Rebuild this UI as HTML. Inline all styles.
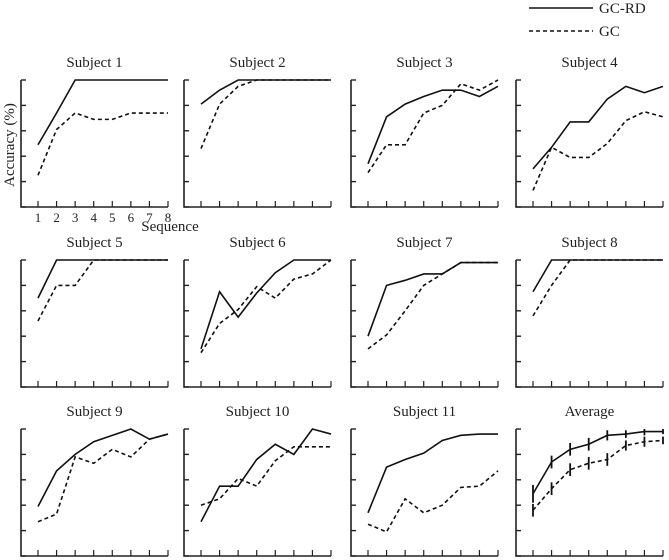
<!DOCTYPE html>
<html><head><meta charset="utf-8"><style>
html,body{margin:0;padding:0;background:#fff;}
svg{display:block;font-family:"Liberation Serif",serif;}
</style></head><body>
<svg id="chart" width="669" height="560" viewBox="0 0 669 560" xmlns="http://www.w3.org/2000/svg">
<g>
<line x1="529" y1="8" x2="593" y2="8" stroke="#111" stroke-width="1.6"/>
<text x="599" y="13" font-size="15" fill="#222">GC-RD</text>
<line x1="529" y1="31" x2="593" y2="31" stroke="#111" stroke-width="1.6" stroke-dasharray="4,3"/>
<text x="599" y="36" font-size="15" fill="#222">GC</text>
</g>
<text transform="translate(14,145) rotate(-90)" text-anchor="middle" font-size="15" fill="#222">Accuracy (%)</text>
<text x="170" y="231" text-anchor="middle" font-size="15" fill="#222">Sequence</text>
<g id="panels"></g>
</svg>
<script>
const titles = ["Subject 1","Subject 2","Subject 3","Subject 4","Subject 5","Subject 6","Subject 7","Subject 8","Subject 9","Subject 10","Subject 11","Average"];
const sequences = [1,2,3,4,5,6,7,8];
const gcrd = [
 [49,74,100,100,100,100,100,100],
 [81,92,100,100,100,100,100,100],
 [34,71,81,87,92,92,87,95],
 [30,47,67,67,85,95,90,95],
 [70,100,100,100,100,100,100,100],
 [30,75,55,74,90,100,100,100],
 [40,80,84,89,89,98,98,98],
 [75,100,100,100,100,100,100,100],
 [39,67,80,90,95,100,92,96],
 [27,55,55,76,88,80,100,96],
 [34,70,76,81,91,95,96,96],
 [49,74,84,88,95,96,98,98]
];
const gc = [
 [25,61,74,69,69,74,74,74],
 [46,81,95,100,100,100,100,100],
 [27,49,49,74,80,97,92,100],
 [13,47,39,39,50,68,75,71],
 [52,80,80,100,100,100,100,100],
 [27,50,61,79,70,85,89,100],
 [30,41,60,80,89,98,98,98],
 [56,80,100,100,100,100,100,100],
 [27,33,78,73,84,78,92,96],
 [40,45,61,55,75,86,86,86],
 [25,19,45,34,40,54,55,67],
 [36,53,68,73,76,87,90,91]
];
const avgErrRD = [7,5,5,5,4,3,3,2];
const avgErrGC = [5,5,5,5,5,4,4,3];
const yTicks = [0,20,40,60,80,100];
const xTickLabels = ["1","2","3","4","5","6","7","8"];

const NS="http://www.w3.org/2000/svg";
const colX=[21,184,351,516], rowTop=[80,260,429], H=127, W=147;
const root=document.getElementById('panels');
function mk(tag,attrs,parent){const e=document.createElementNS(NS,tag);for(const k in attrs)e.setAttribute(k,attrs[k]);parent.appendChild(e);return e;}
titles.forEach((t,i)=>{
  const x0=colX[i%4], top=rowTop[Math.floor(i/4)], bot=top+H;
  const xs=v=>x0+17+(v-1)*(W-17)/7;
  const ys=v=>bot-v/100*H;
  const g=mk('g',{},root);
  
  
  const tt=mk('text',{x:x0+W/2,y:top-13,'text-anchor':'middle','font-size':15,fill:'#222'},g);
  tt.textContent=t;
  
  
  const ax=mk('path',{d:`M${x0},${top} V${bot} H${x0+W}`,stroke:'#222','stroke-width':1.6,fill:'none'},g);
  
  
  yTicks.forEach(v=>{const l=mk('line',{x1:x0,x2:x0+5,y1:ys(v),y2:ys(v),stroke:'#222','stroke-width':1.4},g);
    
    });
  sequences.forEach((s,k)=>{const l=mk('line',{x1:xs(s),x2:xs(s),y1:bot,y2:bot-6,stroke:'#222','stroke-width':1.2},g);
    
    
    if(i===0){const tl=mk('text',{x:xs(s),y:bot+15,'text-anchor':'middle','font-size':13,fill:'#222'},g);tl.textContent=xTickLabels[k];
      
      }
  });
  const p1=mk('polyline',{points:sequences.map((s,k)=>xs(s)+','+ys(gcrd[i][k])).join(' '),fill:'none',stroke:'#111','stroke-width':1.6},g);
  
  
  const p2=mk('polyline',{points:sequences.map((s,k)=>xs(s)+','+ys(gc[i][k])).join(' '),fill:'none',stroke:'#111','stroke-width':1.6,'stroke-dasharray':'4,3'},g);
  
  
  if(t==="Average"){
    sequences.forEach((s,k)=>{
      const e1=mk('line',{x1:xs(s),x2:xs(s),y1:ys(gcrd[i][k]-avgErrRD[k]),y2:ys(Math.min(100,gcrd[i][k]+avgErrRD[k])),stroke:'#111','stroke-width':1.8},g);
      
      
      const e2=mk('line',{x1:xs(s),x2:xs(s),y1:ys(gc[i][k]-avgErrGC[k]),y2:ys(gc[i][k]+avgErrGC[k]),stroke:'#111','stroke-width':1.8},g);
      
      
    });
  }
});
</script>
</body></html>
